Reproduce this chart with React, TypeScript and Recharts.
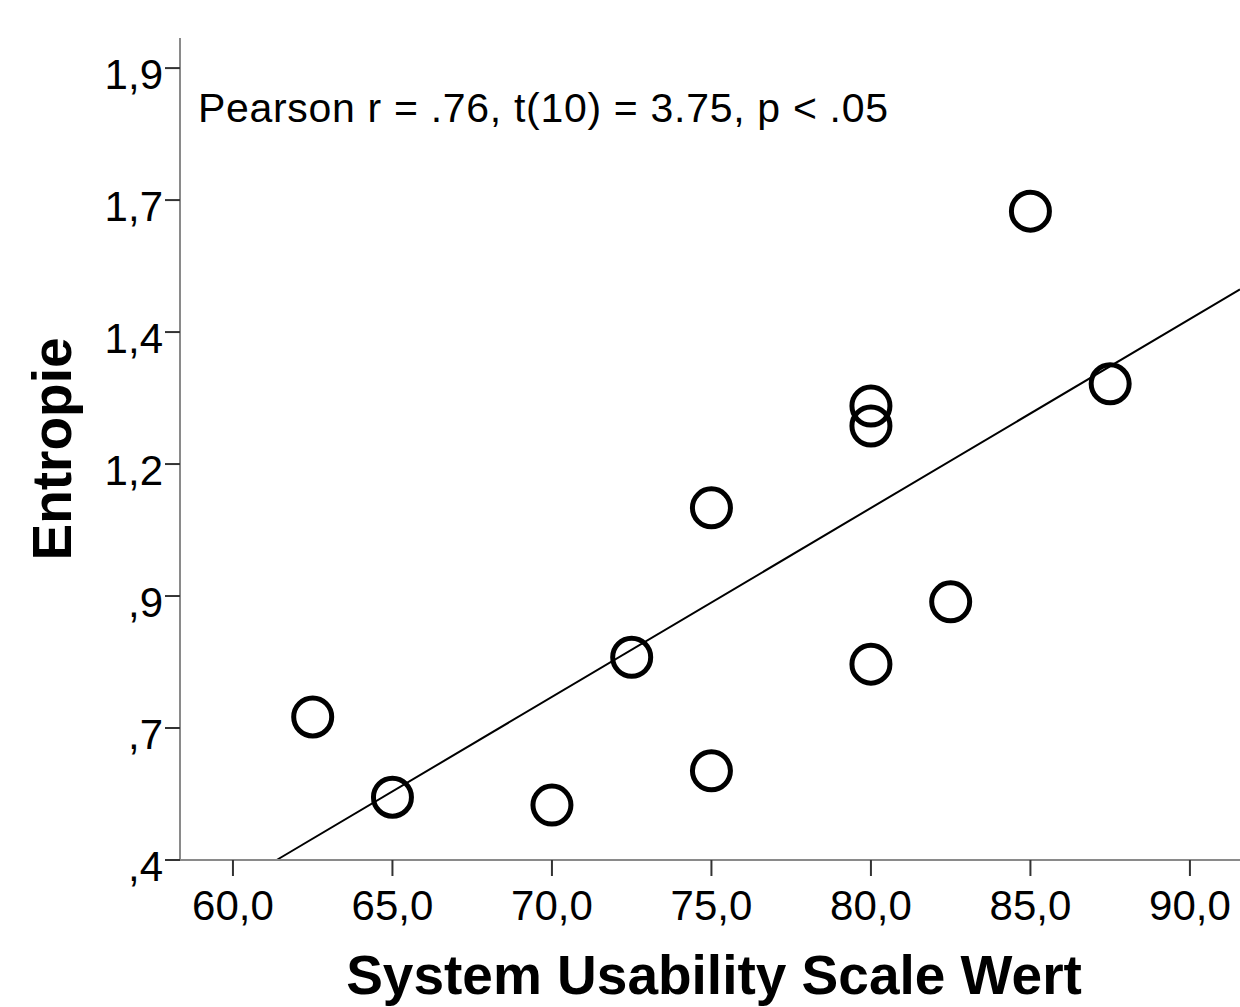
import React from "react";
import { ScatterChart, Scatter, XAxis, YAxis, ReferenceLine, Label } from "recharts";

// SUS score (x) and entropy (y) per participant
const susScores = [62.5, 65, 70, 72.5, 75, 75, 80, 80, 80, 82.5, 85, 87.5];
const entropyValues = [0.671, 0.519, 0.504, 0.784, 1.067, 0.569, 1.26, 1.222, 0.771, 0.889, 1.629, 1.302];

// axis ticks and their labels (SPSS style, German decimal comma)
const xTicks = [60, 65, 70, 75, 80, 85, 90];
const xTickLabels = ["60,0", "65,0", "70,0", "75,0", "80,0", "85,0", "90,0"];
const yTicks = [0.4, 0.65, 0.9, 1.15, 1.4, 1.65, 1.9];
const yTickLabels = [",4", ",7", ",9", "1,2", "1,4", "1,7", "1,9"];

// fit line endpoints
const fitX = [61.37, 91.57];
const fitY = [0.4, 1.481];

const annotation = "Pearson r = .76, t(10) = 3.75, p < .05";
const xTitle = "System Usability Scale Wert";
const yTitle = "Entropie";

const data = susScores.map((x, i) => ({ x, y: entropyValues[i] }));

const FONT = "'Liberation Sans', Arial, sans-serif";

const XTick = (props: any) => {
  const { x, y, payload } = props;
  const idx = xTicks.indexOf(payload.value);
  return (
    <text x={x} y={y} dy={40} textAnchor="middle" fontSize={42} fontFamily={FONT} fill="#000">
      {idx >= 0 ? xTickLabels[idx] : ""}
    </text>
  );
};

const YTick = (props: any) => {
  const { x, y, payload } = props;
  const idx = yTicks.findIndex((t) => Math.abs(t - payload.value) < 1e-6);
  return (
    <text x={x} y={y} dy={21} textAnchor="end" fontSize={42} fontFamily={FONT} fill="#000">
      {idx >= 0 ? yTickLabels[idx] : ""}
    </text>
  );
};

const Ring = (props: any) => {
  const { cx, cy } = props;
  return <circle cx={cx} cy={cy} r={19} fill="none" stroke="#000" strokeWidth={5} />;
};

export default function App() {
  return (
    <div style={{ position: "absolute", left: 0, top: 0, width: 1240, height: 1007, background: "#fff" }}>
      <ScatterChart width={1240} height={1007} margin={{ top: 38, right: 0, bottom: 0, left: 0 }}>
        <XAxis
          type="number"
          dataKey="x"
          domain={[58.34, 91.57]}
          ticks={xTicks}
          allowDataOverflow
          height={147}
          tick={<XTick />}
          tickSize={16}
          tickMargin={4}
          axisLine={{ stroke: "#8a8a8a", strokeWidth: 2 }}
          tickLine={{ stroke: "#333", strokeWidth: 2 }}
        >
          <Label
            content={() => (
              <text x={714} y={994} textAnchor="middle" fontSize={55} fontWeight="bold" fontFamily={FONT} fill="#000">
                {xTitle}
              </text>
            )}
          />
        </XAxis>
        <YAxis
          type="number"
          dataKey="y"
          domain={[0.4, 1.957]}
          ticks={yTicks}
          allowDataOverflow
          width={180}
          tick={<YTick />}
          tickSize={15}
          tickMargin={2}
          axisLine={{ stroke: "#8a8a8a", strokeWidth: 2 }}
          tickLine={{ stroke: "#333", strokeWidth: 2 }}
        >
          <Label
            content={() => (
              <text
                x={71}
                y={449}
                transform="rotate(-90, 71, 449)"
                textAnchor="middle"
                fontSize={55}
                fontWeight="bold"
                fontFamily={FONT}
                fill="#000"
              >
                {yTitle}
              </text>
            )}
          />
        </YAxis>
        <ReferenceLine
          segment={[
            { x: fitX[0], y: fitY[0] },
            { x: fitX[1], y: fitY[1] },
          ]}
          stroke="#000"
          strokeWidth={2}
          ifOverflow="visible"
        />
        <Scatter data={data} shape={<Ring />} isAnimationActive={false} />
        <ReferenceLine
          y={1.957}
          stroke="none"
          label={() => (
            <text x={198} y={122} fontSize={41} fontFamily={FONT} fill="#000" textLength={690} lengthAdjust="spacing">
              {annotation}
            </text>
          )}
        />
      </ScatterChart>
    </div>
  );
}
